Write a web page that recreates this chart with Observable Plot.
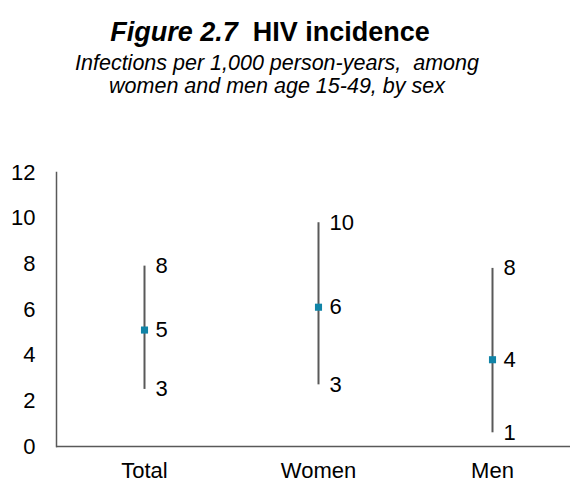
<!DOCTYPE html>
<html>
<head>
<meta charset="utf-8">
<script src="https://cdn.jsdelivr.net/npm/d3@7"></script>
<script src="https://cdn.jsdelivr.net/npm/@observablehq/plot@0.6"></script>
<style>
  body { margin: 0; background: #fff; font-family: "Liberation Sans", Arial, sans-serif; }
  #wrap { width: 570px; height: 484px; position: relative; overflow: hidden; }
  #title { position: absolute; left: 0; top: 17px; width: 540px; text-align: center; font-size: 27px; line-height: 30px; font-weight: bold; color: #000; white-space: nowrap; }
  #subtitle { position: absolute; left: 0; top: 52px; width: 554px; text-align: center; font-size: 21.5px; line-height: 23px; font-style: italic; color: #000; white-space: nowrap; }
  #chart { position: absolute; left: 0; top: 140px; }
</style>
</head>
<body>
<div id="wrap">
  <div id="title"><i>Figure 2.7</i>&nbsp; HIV incidence</div>
  <div id="subtitle">Infections per 1,000 person-years,&nbsp; among<br>women and men age 15-49, by sex</div>
  <div id="chart"></div>
</div>
<script>
const categories = ["Total", "Women", "Men"];
const estimate = [5.1, 6.1, 3.8];
const lower = [2.5, 2.7, 0.6];
const upper = [7.9, 9.8, 7.8];
const yTicks = [0, 2, 4, 6, 8, 10, 12];

const rows = categories.map((c, i) => ({cat: c, est: estimate[i], lo: lower[i], hi: upper[i]}));
const fmt = v => String(Math.round(v));
const lineColor = "#595959";
const dotColor = "#1184a7";
const fs = 22;

const chart = Plot.plot({
  width: 570,
  height: 344,
  marginLeft: 56,
  marginRight: 0,
  marginTop: 32,
  marginBottom: 38,
  style: {fontFamily: "'Liberation Sans', Arial, sans-serif", fontSize: fs + "px", color: "#000", background: "#fff"},
  x: {type: "point", domain: categories, padding: 0.473, align: 0.533},
  y: {domain: [0, 12]},
  marks: [
    Plot.axisY({ticks: yTicks, tickSize: 0, tickPadding: 21, label: null, fontSize: fs, fill: "#000"}),
    Plot.axisX({tickSize: 0, tickPadding: 16, label: null, fontSize: fs, fill: "#000"}),
    Plot.frame({anchor: "left", stroke: lineColor, strokeWidth: 1.5}),
    Plot.ruleY([0], {stroke: lineColor, strokeWidth: 1.5}),
    Plot.ruleX(rows, {x: "cat", y1: "lo", y2: "hi", stroke: lineColor, strokeWidth: 2}),
    Plot.dot(rows, {x: "cat", y: "est", symbol: "square", r: 4, fill: dotColor, stroke: "none"}),
    Plot.text(rows, {x: "cat", y: "hi", text: d => fmt(d.hi), dx: 11, textAnchor: "start", fontSize: fs, fill: "#000"}),
    Plot.text(rows, {x: "cat", y: "est", text: d => fmt(d.est), dx: 11, textAnchor: "start", fontSize: fs, fill: "#000"}),
    Plot.text(rows, {x: "cat", y: "lo", text: d => fmt(d.lo), dx: 11, textAnchor: "start", fontSize: fs, fill: "#000"})
  ]
});
document.getElementById("chart").appendChild(chart);
</script>
</body>
</html>
